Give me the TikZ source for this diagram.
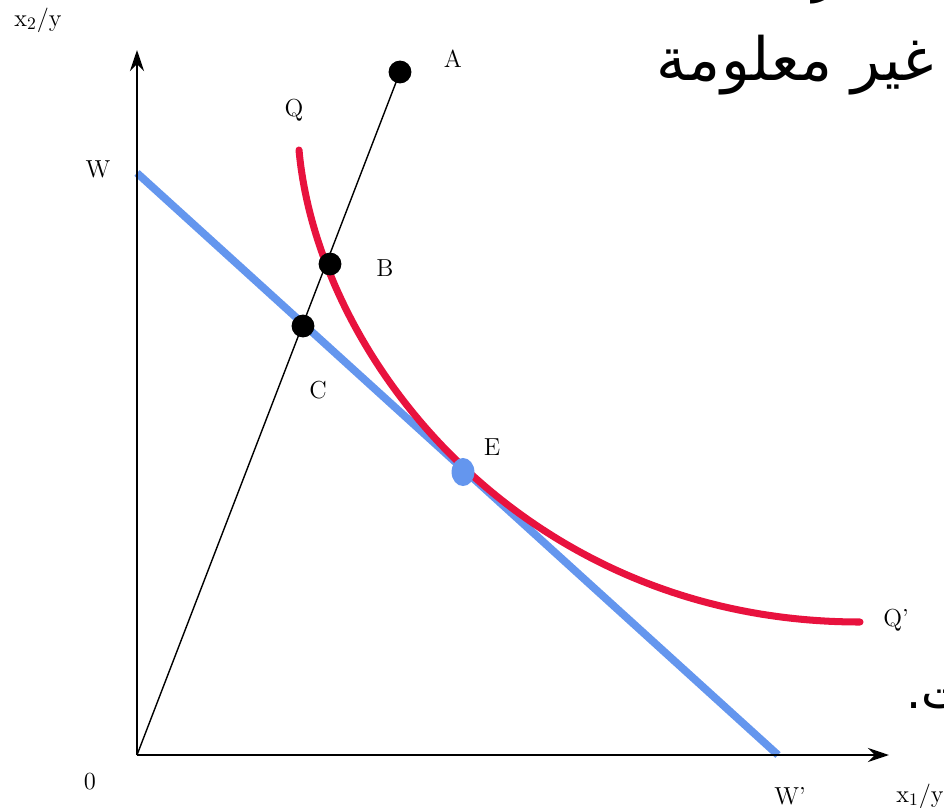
\documentclass[tikz,border=0pt]{standalone}
\usepackage{fontspec}
\newfontfamily\arabicfont[Script=Arabic]{DejaVu Sans}
\TeXXeTstate=1
\usetikzlibrary{arrows.meta,shapes.geometric}

\definecolor{budget}{RGB}{100,150,238}
\definecolor{isoq}{RGB}{232,18,62}

\tikzset{
  axis/.style={line width=1.6pt,-{Stealth[length=12pt,width=8pt,inset=4pt]}},
  lbl/.style={font=\fontsize{14}{16}\selectfont,inner sep=0pt},
  dot/.style={circle,fill=black,inner sep=0pt,minimum size=13pt},
  slide/.style={font=\fontsize{34}{38}\selectfont\arabicfont,inner sep=0pt},
}

\begin{document}
\begin{tikzpicture}[x=0.02cm,y=-0.02cm]
  \useasboundingbox (0,0) rectangle (944,808);
  \coordinate (O) at (137,755);
  \coordinate (ytip) at (137,50);
  \coordinate (xtip) at (889,755);
  \coordinate (W) at (137,173);
  \coordinate (W') at (778,755);
  \coordinate (Q) at (299,150);
  \coordinate (Q') at (860,622);

  \draw[budget,line width=4.4pt] (W) -- (W');
  \draw[isoq,line width=4pt,line cap=round] (Q) .. controls (318,360) and (525,622) .. (Q');
  \draw[axis] (O) -- (ytip);
  \draw[axis] (O) -- (xtip);

  \node[dot] (A) at (400,72) {};
  \node[dot] (B) at (330,264) {};
  \node[dot] (C) at (303,326) {};
  \node[ellipse,fill=budget,inner sep=0pt,minimum width=13pt,minimum height=16pt] (E) at (463,472) {};
  \draw[line width=0.8pt] (O) -- (A.center);

  \node[lbl] (x2lab) at (38,20) {x$_2$/y};
  \node[lbl] (x1lab) at (920,796) {x$_1$/y};
  \node[lbl] (Wlab) at (98,169) {W};
  \node[lbl] (W'lab) at (790,796) {W'};
  \node[lbl] (Olab) at (90,782) {0};
  \node[lbl] (Alab) at (453,59) {A};
  \node[lbl] (Blab) at (385,268) {B};
  \node[lbl] (Clab) at (318,390) {C};
  \node[lbl] (Elab) at (492,447) {E};
  \node[lbl] (Qlab) at (294,110) {Q};
  \node[lbl] (Q'lab) at (896,620) {Q'};

  \node[slide,anchor=base east] (title) at (934,80) {\beginR غير معلومة\endR};
  \node[slide,anchor=base east,font=\fontsize{27}{30}\selectfont\arabicfont] (topfrag) at (836,-8) {\beginR ر\endR};
  \node[slide,anchor=base west,font=\fontsize{27}{30}\selectfont\arabicfont] (endfrag) at (906,708) {\beginR ت.\endR};
\end{tikzpicture}
\end{document}
